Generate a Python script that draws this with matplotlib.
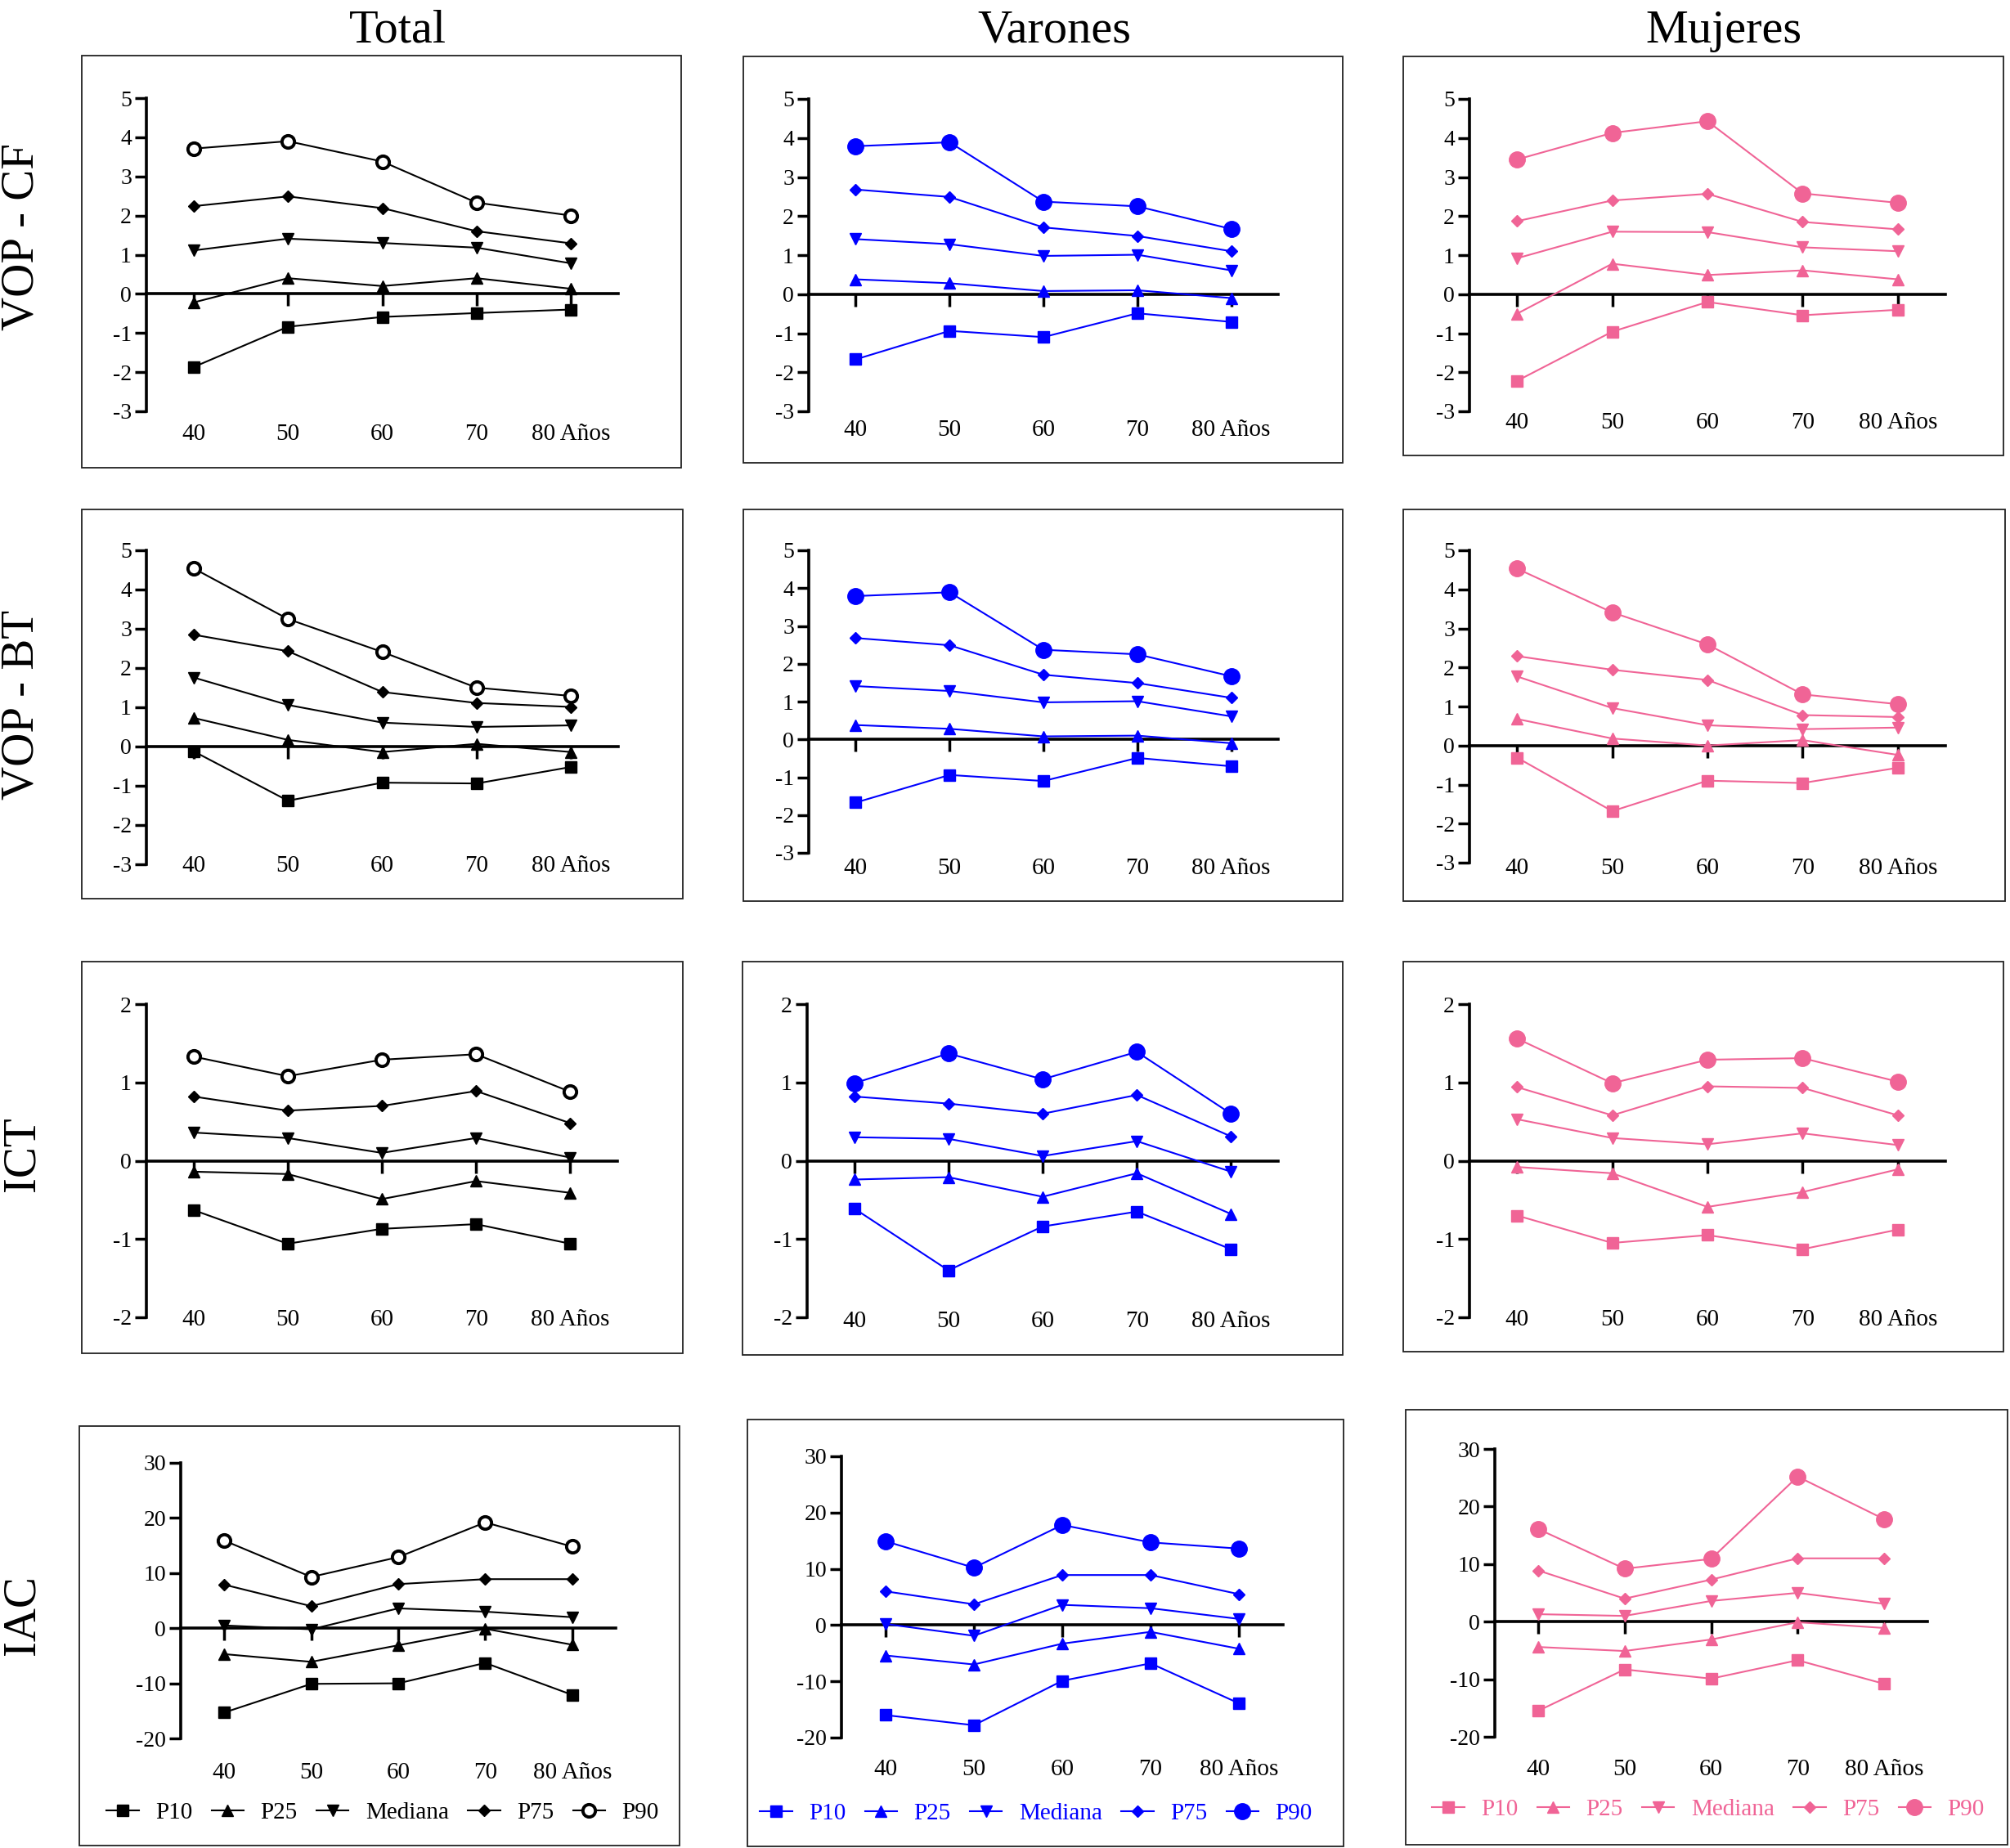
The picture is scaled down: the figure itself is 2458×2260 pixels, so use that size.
import matplotlib
matplotlib.use("Agg")
import matplotlib.pyplot as plt
from matplotlib.patches import Rectangle

# fuente tipo Times
plt.rcParams["font.family"] = ["Liberation Serif", "DejaVu Serif"]
plt.rcParams["axes.unicode_minus"] = False

W, H = 2458, 2260

edades = [40, 50, 60, 70, 80]
etiquetas_x = ["40", "50", "60", "70", "80 Años"]
percentiles = ["P10", "P25", "Mediana", "P75", "P90"]
columnas = ["Total", "Varones", "Mujeres"]
filas = ["VOP - CF", "VOP - BT", "ICT", "IAC"]

# valores, orden: P10, P25, Mediana, P75, P90
cf_total = [[-1.87, -0.84, -0.59, -0.49, -0.40],
            [-0.22, 0.40, 0.20, 0.40, 0.13],
            [1.11, 1.41, 1.30, 1.18, 0.78],
            [2.24, 2.49, 2.19, 1.60, 1.29],
            [3.71, 3.90, 3.38, 2.33, 2.00]]
cf_varones = [[-1.67, -0.94, -1.10, -0.49, -0.71],
              [0.38, 0.28, 0.08, 0.10, -0.10],
              [1.41, 1.28, 0.98, 1.01, 0.61],
              [2.68, 2.49, 1.71, 1.49, 1.10],
              [3.79, 3.89, 2.37, 2.25, 1.67]]
cf_mujeres = [[-2.22, -0.96, -0.20, -0.54, -0.40],
              [-0.50, 0.78, 0.49, 0.61, 0.38],
              [0.92, 1.60, 1.59, 1.20, 1.10],
              [1.87, 2.40, 2.57, 1.85, 1.66],
              [3.45, 4.13, 4.43, 2.58, 2.34]]

bt_total = [[-0.12, -1.38, -0.92, -0.94, -0.52],
            [0.73, 0.17, -0.14, 0.07, -0.14],
            [1.76, 1.06, 0.61, 0.50, 0.54],
            [2.85, 2.43, 1.39, 1.11, 1.01],
            [4.54, 3.25, 2.41, 1.50, 1.29]]
bt_varones = [[-1.67, -0.94, -1.10, -0.49, -0.71],
              [0.38, 0.28, 0.08, 0.10, -0.10],
              [1.41, 1.28, 0.98, 1.01, 0.61],
              [2.68, 2.49, 1.71, 1.49, 1.10],
              [3.79, 3.89, 2.37, 2.25, 1.67]]
bt_mujeres = [[-0.31, -1.68, -0.90, -0.96, -0.57],
              [0.68, 0.18, 0.00, 0.14, -0.24],
              [1.77, 0.96, 0.52, 0.42, 0.46],
              [2.29, 1.94, 1.68, 0.78, 0.73],
              [4.53, 3.41, 2.59, 1.31, 1.06]]

ict_total = [[-0.63, -1.06, -0.87, -0.81, -1.06],
             [-0.14, -0.17, -0.49, -0.26, -0.41],
             [0.36, 0.29, 0.10, 0.29, 0.04],
             [0.82, 0.64, 0.70, 0.89, 0.48],
             [1.33, 1.08, 1.29, 1.36, 0.88]]
ict_varones = [[-0.61, -1.40, -0.84, -0.65, -1.13],
               [-0.24, -0.21, -0.46, -0.16, -0.68],
               [0.30, 0.28, 0.06, 0.25, -0.14],
               [0.82, 0.73, 0.60, 0.84, 0.31],
               [0.99, 1.37, 1.04, 1.39, 0.60]]
ict_mujeres = [[-0.70, -1.05, -0.95, -1.13, -0.88],
               [-0.08, -0.16, -0.59, -0.40, -0.11],
               [0.53, 0.29, 0.21, 0.35, 0.20],
               [0.94, 0.58, 0.95, 0.93, 0.58],
               [1.56, 0.99, 1.29, 1.31, 1.01]]

iac_total = [[-15.3, -10.1, -10.0, -6.3, -12.1],
             [-4.7, -6.1, -3.1, -0.1, -3.0],
             [0.5, -0.2, 3.6, 3.0, 2.0],
             [7.9, 4.0, 8.0, 8.9, 8.9],
             [15.9, 9.3, 12.9, 19.2, 14.8]]
iac_varones = [[-16.0, -17.8, -9.9, -6.8, -13.9],
               [-5.4, -7.0, -3.3, -1.2, -4.2],
               [0.2, -1.9, 3.6, 3.0, 1.1],
               [6.0, 3.7, 8.9, 8.9, 5.5],
               [14.9, 10.2, 17.8, 14.7, 13.6]]
iac_mujeres = [[-15.5, -8.3, -9.9, -6.7, -10.8],
               [-4.4, -5.1, -3.1, -0.1, -1.1],
               [1.3, 1.0, 3.6, 5.0, 3.1],
               [8.9, 4.0, 7.3, 11.0, 11.0],
               [16.1, 9.2, 10.9, 25.2, 17.8]]

datos = [[cf_total, cf_varones, cf_mujeres],
         [bt_total, bt_varones, bt_mujeres],
         [ict_total, ict_varones, ict_mujeres],
         [iac_total, iac_varones, iac_mujeres]]

rangos_y = [(-3, 5, 1), (-3, 5, 1), (-2, 2, 1), (-20, 30, 10)]
colores = ["black", "#0000FF", "#F06496"]

# posiciones en pixeles: eje (izq, der, arriba, abajo), y etiquetas, caja (izq, der, arriba, abajo), y leyenda
layout = [
    [(179, 756, 120, 503, 532, (100, 833, 68, 572), None),
     (989, 1563, 121, 503, 527, (909, 1642, 69, 566), None),
     (1797, 2379, 121, 503, 518, (1716, 2450, 69, 557), None)],
    [(179, 756, 673, 1057, 1060, (100, 835, 623, 1099), None),
     (989, 1563, 673, 1043, 1063, (909, 1642, 623, 1102), None),
     (1797, 2379, 673, 1055, 1063, (1716, 2452, 623, 1102), None)],
    [(179, 755, 1228, 1611, 1615, (100, 835, 1176, 1655), None),
     (987, 1563, 1228, 1611, 1617, (908, 1642, 1176, 1657), None),
     (1797, 2379, 1228, 1611, 1615, (1716, 2450, 1176, 1653), None)],
    [(221, 753, 1789, 2126, 2169, (97, 831, 1744, 2257), (468, 2217)),
     (1029, 1569, 1781, 2125, 2165, (914, 1643, 1736, 2258), (1267, 2218)),
     (1828, 2357, 1772, 2124, 2165, (1719, 2455, 1724, 2256), (2089, 2213))],
]

fig = plt.figure(figsize=(W / 100, H / 100), dpi=100)

for r in range(4):
    for c in range(3):
        l, rr, t, b, lab_y, caja, ley = layout[r][c]
        color = colores[c]

        # caja exterior
        bl, br, bt, bb = caja
        fig.add_artist(Rectangle((bl / W, 1 - bb / H), (br - bl) / W, (bb - bt) / H,
                                 transform=fig.transFigure, fill=False,
                                 lw=1.3, ec="#222222"))

        ax = fig.add_axes([l / W, 1 - b / H, (rr - l) / W, (b - t) / H])
        ax.patch.set_alpha(0)
        series = datos[r][c]
        marcadores = ["s", "^", "v", "D", "o"]
        tamanos = [10, 10, 10, 7, 14 if c > 0 else 11]
        for i, nombre in enumerate(percentiles):
            mfc = color
            mew = 1
            if i == 4 and c == 0:
                mfc = "white"
                mew = 2.8
            ax.plot(edades, series[i], color=color, lw=1.5,
                    marker=marcadores[i], ms=tamanos[i], mfc=mfc,
                    mec=color, mew=mew, label=nombre, clip_on=False, zorder=3)

        ymin, ymax, paso = rangos_y[r]
        ax.set_xlim(35, 85)
        ax.set_ylim(ymin, ymax)
        ax.set_yticks(range(ymin, ymax + 1, paso))
        ax.set_xticks(edades)
        ax.tick_params(axis="x", labelbottom=False, direction="out",
                       length=11, width=2.5)
        ax.tick_params(axis="y", direction="out", length=10, width=2.5,
                       pad=3, labelsize=20)
        ax.spines["top"].set_visible(False)
        ax.spines["right"].set_visible(False)
        ax.spines["left"].set_linewidth(2.6)
        ax.spines["bottom"].set_linewidth(2.6)
        ax.spines["bottom"].set_position(("data", 0))

        # etiquetas de edad debajo del eje
        loc = -((lab_y - 14) - b) / (b - t)
        sec = ax.secondary_xaxis(loc)
        sec.set_xticks(edades, etiquetas_x)
        sec.tick_params(length=0, pad=0, labelsize=21)
        sec.spines["bottom"].set_visible(False)

        if ley is not None:
            ax.legend(loc="center", bbox_to_anchor=(ley[0] / W, 1 - ley[1] / H),
                      bbox_transform=fig.transFigure, ncol=5, frameon=False,
                      fontsize=21, handlelength=1.35, handletextpad=0.7,
                      columnspacing=0.8, labelcolor=color, numpoints=1)

# titulos de columna
for x, texto in zip([486, 1289, 2108], columnas):
    fig.text(x / W, 1 - 52 / H, texto, ha="center", va="baseline", fontsize=42)

# titulos de fila
for y, texto in zip([290, 862, 1411, 1975], filas):
    fig.text(27 / W, 1 - y / H, texto, ha="center", va="center",
             rotation=90, fontsize=41)

fig.savefig("out.png", dpi=100)
